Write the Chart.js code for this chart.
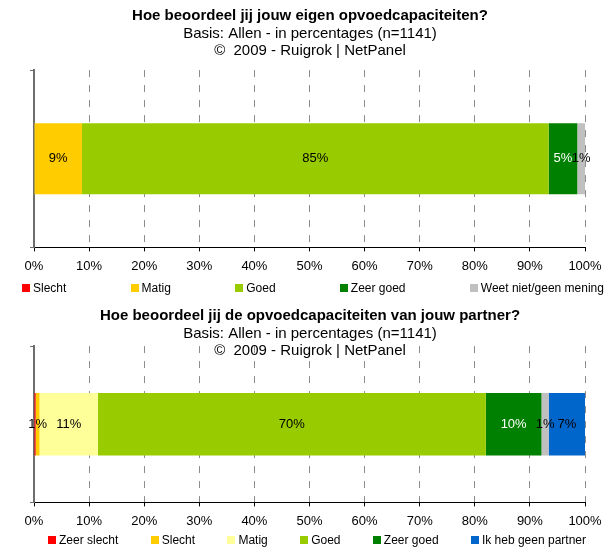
<!DOCTYPE html>
<html lang="nl">
<head>
<meta charset="utf-8">
<title>Opvoedcapaciteiten</title>
<style>
body{margin:0;background:#fff;font-family:"Liberation Sans",Arial,sans-serif;}
.wrap{position:relative;width:604px;height:547px;overflow:hidden;}
canvas{position:absolute;left:0;}
.legend{position:absolute;display:flex;justify-content:space-between;font-size:12px;color:#000;white-space:nowrap;line-height:14px;}
.legend .item{display:flex;align-items:center;}
.legend i{display:inline-block;width:8px;height:8px;margin-right:3px;}
</style>
<script src="https://cdn.jsdelivr.net/npm/chart.js@4/dist/chart.umd.min.js"></script>
</head>
<body>
<div class="wrap">
  <canvas id="eigen" width="604" height="283" style="top:0"></canvas>
  <div class="legend" id="eigenLegend" style="top:281px;left:22px;right:0"></div>
  <canvas id="partner" width="604" height="238" style="top:300px"></canvas>
  <div class="legend" id="partnerLegend" style="top:533px;left:48px;right:18px"></div>
</div>
<script>
// vraag 1: eigen opvoedcapaciteiten
const eigenCats = ['Slecht', 'Matig', 'Goed', 'Zeer goed', 'Weet niet/geen mening'];
const eigenVals = [0, 8.7, 84.7, 5.2, 1.4];
// vraag 2: opvoedcapaciteiten van de partner
const partnerCats = ['Zeer slecht', 'Slecht', 'Matig', 'Goed', 'Zeer goed', 'Weet niet/geen mening', 'Ik heb geen partner'];
const partnerVals = [0.3, 0.7, 10.6, 70.4, 10.1, 1.3, 6.6];
const partnerInLegend = [true, true, true, true, true, false, true];
const axisTicks = [0, 10, 20, 30, 40, 50, 60, 70, 80, 90, 100];

const kleur = {
  'Zeer slecht': '#ff0000', 'Slecht': '#ff0000', 'Matig': '#ffcc00', 'Goed': '#99cc00',
  'Zeer goed': '#008000', 'Weet niet/geen mening': '#c0c0c0', 'Ik heb geen partner': '#0066cc'
};
const FONT = '"Liberation Sans", Arial, sans-serif';

// percentages midden in elk segment
const segLabels = {
  id: 'segLabels',
  afterDatasetsDraw(chart) {
    const ctx = chart.ctx;
    ctx.save();
    ctx.font = '13px ' + FONT;
    ctx.textAlign = 'center';
    ctx.textBaseline = 'middle';
    chart.data.datasets.forEach((ds, i) => {
      chart.getDatasetMeta(i).data.forEach((bar, j) => {
        const r = Math.round(ds.data[j]);
        if (r < 1) return;
        ctx.fillStyle = ds.labelColor || '#000';
        ctx.fillText(r + '%', (bar.x + bar.base) / 2, bar.y);
      });
    });
    ctx.restore();
  }
};

function maakGrafiek(id, titel, cats, vals, colors, subPad) {
  return new Chart(document.getElementById(id), {
    type: 'bar',
    data: {
      labels: [''],
      datasets: cats.map((c, i) => ({
        label: c,
        data: [vals[i]],
        backgroundColor: colors[i],
        borderWidth: 0,
        barPercentage: 0.4,
        categoryPercentage: 1,
        labelColor: c === 'Zeer goed' ? '#fff' : '#000'
      }))
    },
    options: {
      indexAxis: 'y',
      responsive: false,
      animation: false,
      devicePixelRatio: 1,
      layout: {padding: {left: 16, right: 0, top: 0, bottom: 2}},
      plugins: {
        legend: {display: false},
        tooltip: {enabled: false},
        title: {display: true, text: titel, color: '#000',
          font: {family: FONT, size: 15, weight: 'bold', lineHeight: 1.2}, padding: {top: 7, bottom: 0}},
        subtitle: {display: true, text: ['Basis: Allen - in percentages (n=1141)', '\u00a9  2009 - Ruigrok | NetPanel'],
          color: '#000', font: {family: FONT, size: 15, lineHeight: 1.17}, padding: {top: 0, bottom: subPad}}
      },
      scales: {
        x: {
          stacked: true, min: 0, max: 100,
          afterBuildTicks: s => { s.ticks = axisTicks.map(v => ({value: v})); },
          afterFit: s => { s.paddingRight = 19; },
          ticks: {color: '#000', font: {family: FONT, size: 13}, padding: 7, callback: v => v + '%'},
          grid: {color: c => (c.tick && c.tick.value === 0) ? 'rgba(0,0,0,0)' : '#8c8c8c', lineWidth: 1, drawTicks: true,
            tickLength: 4, tickColor: '#000', tickBorderDash: []},
          border: {display: true, color: '#000', width: 1, dash: [7, 8]}
        },
        y: {
          stacked: true, offset: true,
          afterFit: s => { s.width = 18; },
          ticks: {display: false},
          grid: {drawOnChartArea: false, drawTicks: true, tickLength: 4, tickColor: '#6e6e6e', offset: true},
          border: {display: true, color: '#6e6e6e', width: 2}
        }
      }
    },
    plugins: [segLabels]
  });
}

function maakLegenda(chart, elId, show) {
  const el = document.getElementById(elId);
  chart.data.datasets.forEach((ds, i) => {
    if (show && !show[i]) return;
    const item = document.createElement('span');
    item.className = 'item';
    const box = document.createElement('i');
    box.style.background = ds.backgroundColor;
    item.appendChild(box);
    item.appendChild(document.createTextNode(ds.label));
    el.appendChild(item);
  });
}

const eigenColors = eigenCats.map(c => kleur[c]);
const partnerColors = partnerCats.map(c => c === 'Slecht' ? '#ffcc00' : c === 'Matig' ? '#ffff99' : kleur[c]);

const c1 = maakGrafiek('eigen', 'Hoe beoordeel jij jouw eigen opvoedcapaciteiten?', eigenCats, eigenVals, eigenColors, 10);
const c2 = maakGrafiek('partner', 'Hoe beoordeel jij de opvoedcapaciteiten van jouw partner?', partnerCats, partnerVals, partnerColors, -14);
maakLegenda(c1, 'eigenLegend');
maakLegenda(c2, 'partnerLegend', partnerInLegend);
</script>
</body>
</html>
